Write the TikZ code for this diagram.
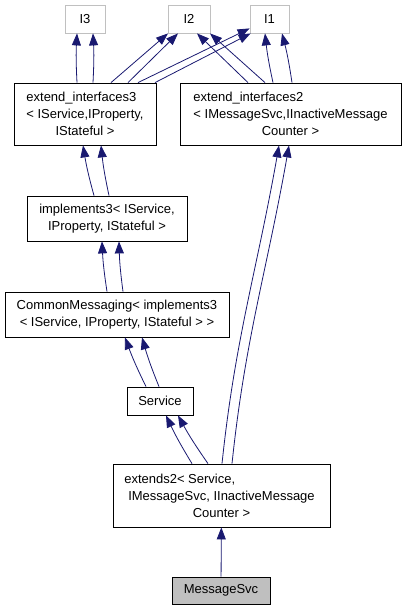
\documentclass[tikz,border=0pt]{standalone}
\usepackage{fontspec}
\setmainfont{Liberation Sans}
\usetikzlibrary{arrows.meta,calc,positioning}
\definecolor{edgeblue}{HTML}{191970}
\definecolor{ifacegray}{HTML}{C0C0C0}
\definecolor{focusgray}{HTML}{BFBFBF}

\begin{document}
\begin{tikzpicture}[x=1pt, y=1pt, line width=0.8pt, %
    font=\fontsize{13}{17}\selectfont, %
    classbox/.style={rectangle, draw=black, fill=white, align=center, inner sep=0pt}, %
    ifacebox/.style={rectangle, draw=ifacegray, fill=white, inner sep=0pt, minimum height=28}, %
    inherit/.style={draw=edgeblue, -{Triangle[length=12pt, width=9pt]}}]
  \useasboundingbox (0,0) rectangle (407,-611);
%
  \node[classbox, minimum width=142, minimum height=62] (ExtIf3) at (85,-114) %
       {\rlap{extend\_interfaces3}\phantom{< IService,IProperty,}\\%
        < IService,IProperty,\\IStateful >};
%
  \node[ifacebox, minimum width=40, above of=ExtIf3, node distance=95] (IfThree) {I3};
  \node[ifacebox, minimum width=42, above of=ExtIf3, node distance=95, %
        xshift=104] (IfTwo) {I2};
  \node[ifacebox, minimum width=39, above of=ExtIf3, node distance=95, %
        xshift=184.5] (IfOne) {I1};
%
  \node[classbox, minimum width=221, minimum height=62, right of=ExtIf3, %
        node distance=205.5] (ExtIf2) %
       {\rlap{extend\_interfaces2}\phantom{< IMessageSvc,IInactiveMessage}\\%
        < IMessageSvc,IInactiveMessage\\Counter >};
%
  \node[classbox, minimum width=160, minimum height=45, below of=ExtIf3, %
        node distance=104.5, xshift=22] (Impl3) %
       {implements3< IService,\\IProperty, IStateful >};
  \node[classbox, minimum width=224, minimum height=45, below of=Impl3, %
        node distance=96, xshift=10] (CommonMsg) %
       {CommonMessaging< implements3\\< IService, IProperty, IStateful > >};
  \node[classbox, minimum width=66, minimum height=28, below of=CommonMsg, %
        node distance=86.5, xshift=43] (Service) {Service};
  \node[classbox, minimum width=217, minimum height=63, below of=Service, %
        node distance=94.5, xshift=61.5] (Extends2) %
       {\rlap{\hspace*{-4pt}extends2< Service,}\phantom{IMessageSvc, IInactiveMessage}\\%
        IMessageSvc, IInactiveMessage\\Counter >};
  \node[classbox, fill=focusgray, minimum width=98, minimum height=27, %
        below of=Extends2, node distance=95, xshift=-0.5] (MsgSvc) {MessageSvc};
%
  \draw [inherit] ($(ExtIf3.north)+(-8,0)$) to[bend left=3] ($(IfThree.south)+(-8,0)$);
  \draw [inherit] ($(ExtIf3.north)+(8,0)$) to[bend right=3] ($(IfThree.south)+(8,0)$);
  \draw [inherit] ($(ExtIf3.north)+(26,0)$) -- ($(IfTwo.south)+(-21,0)$);
  \draw [inherit] ($(ExtIf3.north)+(43,0)$) -- ($(IfTwo.south)+(-11,0)$);
  \draw [inherit] ($(ExtIf3.north)+(53,0)$) -- ($(IfOne.south west)+(0,5)$);
  \draw [inherit] ($(ExtIf3.north)+(70,0)$) -- ($(IfOne.south west)+(1,0)$);
  \draw [inherit] ($(ExtIf2.north)+(-42.5,0)$) -- ($(IfTwo.south)+(8,0)$);
  \draw [inherit] ($(ExtIf2.north)+(-25.5,0)$) -- ($(IfTwo.south)+(21,0)$);
  \draw [inherit] ($(ExtIf2.north)+(-17.5,0)$) to[bend left=3] ($(IfOne.south)+(-4.5,0)$);
  \draw [inherit] ($(ExtIf2.north)+(1.5,0)$) to[bend right=3] ($(IfOne.south)+(12.5,0)$);
  \draw [inherit] ($(Impl3.north)+(-13,0)$) to[bend left=3] ($(ExtIf3.south)+(-2,0)$);
  \draw [inherit] ($(Impl3.north)+(2,0)$) to[bend left=3] ($(ExtIf3.south)+(16,0)$);
  \draw [inherit] ($(CommonMsg.north)+(-10,0)$) to[bend left=3] ($(Impl3.south)+(-5,0)$);
  \draw [inherit] ($(CommonMsg.north)+(6,0)$) to[bend left=3] ($(Impl3.south)+(12,0)$);
  \draw [inherit] ($(Service.north)+(-14,0)$) to[bend left=3] ($(CommonMsg.south)+(8,0)$);
  \draw [inherit] ($(Service.north)+(-1,0)$) to[bend left=3] ($(CommonMsg.south)+(25,0)$);
  \draw [inherit] ($(Extends2.north)+(-29.5,0)$) to[bend left=3] ($(Service.south)+(6,0)$);
  \draw [inherit] ($(Extends2.north)+(-13.5,0)$) to[bend left=3] ($(Service.south)+(18,0)$);
  \draw [inherit] ($(Extends2.north)+(0.5,0)$) to[out=84, in=-100] ($(ExtIf2.south)+(-11.5,0)$);
  \draw [inherit] ($(Extends2.north)+(10.5,0)$) to[out=84, in=-100] ($(ExtIf2.south)+(-1.5,0)$);
  \draw [inherit] (MsgSvc) -- (Extends2);
\end{tikzpicture}
\end{document}
